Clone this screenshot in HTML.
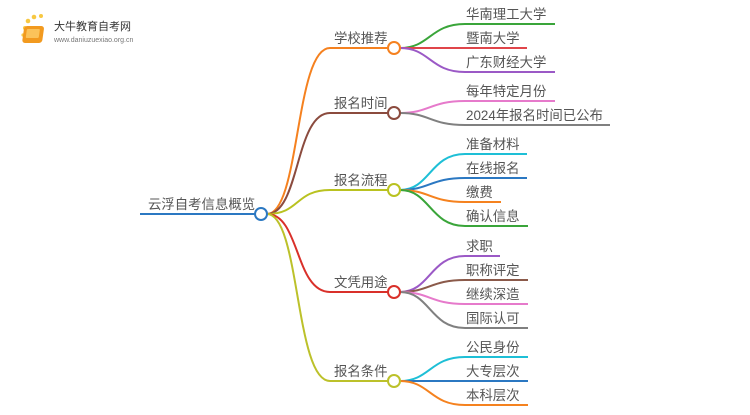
<!DOCTYPE html>
<html><head><meta charset="utf-8"><style>
body{margin:0;background:#fff;}
text{font-family:"Liberation Sans","Noto Sans CJK SC",sans-serif;font-size:13.4px;fill:#555;}
</style></head><body>
<svg width="750" height="410" viewBox="0 0 750 410" xmlns="http://www.w3.org/2000/svg">
<g>
<circle cx="25" cy="28" r="2" fill="#f7c842"/><circle cx="28" cy="21" r="2.3" fill="#f7c842"/><circle cx="34" cy="17" r="2.3" fill="#f7c842"/><circle cx="41" cy="16" r="2" fill="#f7c842"/><circle cx="23" cy="35" r="1.6" fill="#f7c842"/>
<rect x="28" y="26" width="20" height="17" rx="3" fill="#f29a1f" transform="skewX(-8)"/>
<rect x="31" y="29" width="13" height="9" rx="1" fill="#fbc35a" transform="skewX(-8)"/>
<text x="54" y="30" style="font-size:11px;fill:#333">大牛教育自考网</text>
<text x="54" y="42" style="font-size:7px;fill:#777">www.daniuzuexiao.org.cn</text>
</g>
<g fill="none" stroke-width="2">
<path d="M140 214 H255" stroke="#2b78c2"/>
<path d="M267 214 C300 214 295 48 330 48 H388" stroke="#f5811f"/>
<path d="M267 214 C300 214 295 113 330 113 H388" stroke="#8b4b3e"/>
<path d="M267 214 C300 214 295 190 330 190 H388" stroke="#b9c220"/>
<path d="M267 214 C300 214 295 292 330 292 H388" stroke="#d9302a"/>
<path d="M267 214 C300 214 295 381 330 381 H388" stroke="#bcc12a"/>
<path d="M400 48 C430 48 430 24 465 24 H555" stroke="#3aa53a"/>
<path d="M400 48 H527" stroke="#e0454a"/>
<path d="M400 48 C430 48 430 72 465 72 H555" stroke="#9b59c6"/>
<path d="M400 113 C430 113 430 101 465 101 H555" stroke="#e67acb"/>
<path d="M400 113 C430 113 430 125 465 125 H610" stroke="#808080"/>
<path d="M400 190 C430 190 430 154 465 154 H527" stroke="#1ebfd6"/>
<path d="M400 190 C430 190 430 178 465 178 H527" stroke="#2b78c2"/>
<path d="M400 190 C430 190 430 202 465 202 H501" stroke="#f5821f"/>
<path d="M400 190 C430 190 430 226 465 226 H528" stroke="#3aa53a"/>
<path d="M400 292 C430 292 430 256 465 256 H500" stroke="#9b59c6"/>
<path d="M400 292 C430 292 430 280 465 280 H528" stroke="#8b5a4a"/>
<path d="M400 292 C430 292 430 304 465 304 H528" stroke="#e67acb"/>
<path d="M400 292 C430 292 430 328 465 328 H528" stroke="#808080"/>
<path d="M400 381 C430 381 430 357 465 357 H528" stroke="#1ebfd6"/>
<path d="M400 381 H528" stroke="#2b78c2"/>
<path d="M400 381 C430 381 430 405 465 405 H528" stroke="#f5821f"/>
</g>
<g fill="#fff" stroke-width="2">
<circle cx="261" cy="214" r="6" stroke="#2b78c2"/>
<circle cx="394" cy="48" r="6" stroke="#f5811f"/>
<circle cx="394" cy="113" r="6" stroke="#8b4b3e"/>
<circle cx="394" cy="190" r="6" stroke="#b9c220"/>
<circle cx="394" cy="292" r="6" stroke="#d9302a"/>
<circle cx="394" cy="381" r="6" stroke="#bcc12a"/>
</g>
<text x="148" y="209">云浮自考信息概览</text>
<text x="334" y="43">学校推荐</text>
<text x="334" y="108">报名时间</text>
<text x="334" y="185">报名流程</text>
<text x="334" y="287">文凭用途</text>
<text x="334" y="376">报名条件</text>
<text x="466" y="19">华南理工大学</text>
<text x="466" y="43">暨南大学</text>
<text x="466" y="67">广东财经大学</text>
<text x="466" y="96">每年特定月份</text>
<text x="466" y="120">2024年报名时间已公布</text>
<text x="466" y="149">准备材料</text>
<text x="466" y="173">在线报名</text>
<text x="466" y="197">缴费</text>
<text x="466" y="221">确认信息</text>
<text x="466" y="251">求职</text>
<text x="466" y="275">职称评定</text>
<text x="466" y="299">继续深造</text>
<text x="466" y="323">国际认可</text>
<text x="466" y="352">公民身份</text>
<text x="466" y="376">大专层次</text>
<text x="466" y="400">本科层次</text>
</svg>
</body></html>
